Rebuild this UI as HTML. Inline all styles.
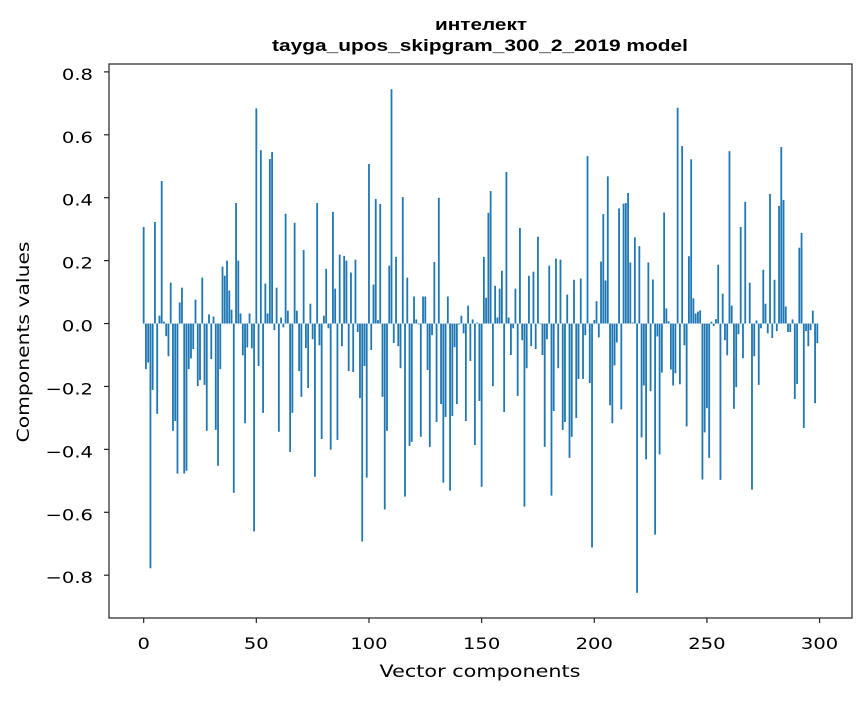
<!DOCTYPE html>
<html><head><meta charset="utf-8"><style>
body{margin:0;background:#fff;}
svg text{font-family:"DejaVu Sans","Liberation Sans",sans-serif;fill:#000;}
svg text.ttl{font-family:"Liberation Sans","DejaVu Sans",sans-serif;}
</style></head><body>
<svg id="chart" width="867" height="696" viewBox="0 0 867 696" xmlns="http://www.w3.org/2000/svg">
<rect width="867" height="696" fill="#fff"/>
<text class="ttl" x="481" y="30" text-anchor="middle" font-size="17" font-weight="bold" textLength="92" lengthAdjust="spacingAndGlyphs">интелект</text>
<text class="ttl" x="480" y="51" text-anchor="middle" font-size="17" font-weight="bold" textLength="416" lengthAdjust="spacingAndGlyphs">tayga_upos_skipgram_300_2_2019 model</text>
<g id="bars"></g>
<g id="axes"></g>
<text x="480" y="677" text-anchor="middle" font-size="17" textLength="201" lengthAdjust="spacingAndGlyphs">Vector components</text>
<text transform="translate(29,342) rotate(-90)" text-anchor="middle" font-size="17" textLength="201" lengthAdjust="spacingAndGlyphs">Components values</text>
</svg>
<script>
const values = [
0.307,-0.145,-0.124,-0.778,-0.211,0.323,-0.287,0.025,0.453,0.006,
-0.04,-0.104,0.13,-0.341,-0.31,-0.477,0.067,0.114,-0.477,-0.468,
-0.145,-0.111,-0.081,0.076,-0.199,-0.18,0.146,-0.195,-0.341,0.029,
-0.113,0.022,-0.338,-0.452,-0.145,0.181,0.152,0.2,0.105,0.044,
-0.538,0.383,0.2,0.032,-0.101,-0.317,-0.076,0.032,-0.079,-0.661,
0.684,-0.135,0.551,-0.284,0.127,0.032,0.523,0.545,-0.021,0.114,
-0.344,0.019,-0.012,0.349,0.041,-0.408,-0.284,0.32,0.041,-0.151,
-0.233,0.234,-0.078,-0.205,0.063,-0.05,-0.487,0.383,-0.069,-0.367,
0.025,0.174,-0.015,-0.401,0.355,0.111,-0.37,0.219,-0.072,0.215,
0.2,-0.151,0.162,-0.154,0.203,-0.027,-0.237,-0.693,-0.135,-0.49,
0.507,-0.084,0.124,0.396,0.011,0.38,-0.233,-0.591,-0.341,0.184,
0.745,-0.062,0.212,-0.072,-0.142,0.402,-0.55,0.146,-0.389,-0.376,
0.086,0.013,-0.003,-0.36,0.086,0.086,-0.148,-0.392,-0.037,0.196,
-0.313,0.4,-0.256,-0.506,-0.297,0.086,-0.531,-0.294,-0.075,-0.256,
-0.003,0.025,-0.031,-0.31,0.057,-0.119,0.013,-0.386,0.003,-0.246,
-0.519,0.212,0.082,0.352,0.421,-0.199,0.12,0.019,0.111,0.168,
-0.281,0.482,0.019,-0.1,-0.015,0.111,-0.23,0.304,-0.053,-0.582,
-0.142,0.152,-0.072,0.165,-0.081,0.276,-0.002,-0.1,-0.392,-0.05,
0.184,-0.547,-0.278,0.206,-0.142,0.203,-0.338,-0.313,0.092,-0.427,
-0.36,0.139,-0.3,-0.176,0.143,-0.176,-0.037,0.532,-0.189,-0.712,
0.011,0.071,-0.044,0.197,0.348,0.137,0.468,-0.26,-0.317,-0.133,
-0.06,0.366,-0.273,0.381,0.383,0.415,0.194,0.003,0.274,-0.856,
0.246,-0.362,-0.197,-0.432,0.194,-0.215,0.14,-0.671,-0.041,-0.416,
-0.156,0.353,0.048,0.007,-0.146,-0.197,-0.158,0.686,-0.193,0.564,
-0.069,-0.327,0.214,0.522,0.08,0.032,0.038,0.042,-0.496,-0.346,
-0.269,-0.427,0.006,-0.008,0.014,0.187,-0.497,0.095,-0.053,-0.101,
0.548,0.057,-0.271,-0.202,-0.034,0.307,-0.11,0.387,0,0.13,
-0.528,-0.104,0.01,-0.195,-0.015,0.171,0.063,-0.031,0.412,-0.046,
0.139,-0.024,0.374,0.561,0.393,0.054,-0.027,-0.027,0.013,-0.24,
-0.192,0.241,0.288,-0.332,-0.024,-0.072,-0.021,0.041,-0.253,-0.062
];
const xTicks = [0,50,100,150,200,250,300];
const yTicks = [-0.8,-0.6,-0.4,-0.2,0.0,0.2,0.4,0.6,0.8];

const L=109,R=852,T=64,B=618;
const n=values.length;
const xmin=-0.4-0.05*(n-0.2), xmax=n-0.6+0.05*(n-0.2);
const vmin=Math.min(0,...values), vmax=Math.max(0,...values);
const pad=(vmax-vmin)*0.05;
const ymin=vmin-pad, ymax=vmax+pad;
const xs=v=>L+(v-xmin)/(xmax-xmin)*(R-L);
const ys=v=>B-(v-ymin)/(ymax-ymin)*(B-T);
const NS="http://www.w3.org/2000/svg";
const bars=document.getElementById('bars');
values.forEach((v,i)=>{
  const r=document.createElementNS(NS,'rect');
  const x0=xs(i-0.4),x1=xs(i+0.4);
  const y0=ys(Math.max(v,0)),y1=ys(Math.min(v,0));
  r.setAttribute('x',x0);r.setAttribute('width',x1-x0);
  r.setAttribute('y',y0);r.setAttribute('height',Math.max(y1-y0,0));
  r.setAttribute('fill','#1f77b4');
  
  
  bars.appendChild(r);
});
const ax=document.getElementById('axes');
function el(tag,attrs,text){const e=document.createElementNS(NS,tag);for(const k in attrs)e.setAttribute(k,attrs[k]);if(text!==undefined)e.textContent=text;ax.appendChild(e);return e;}
function stretch(t){const len=t.getComputedTextLength();if(len>0){t.setAttribute('textLength',len*1.22);t.setAttribute('lengthAdjust','spacingAndGlyphs');}}
const frame=el('rect',{x:L,y:T,width:R-L,height:B-T,fill:'none',stroke:'#222','stroke-width':1.2});


xTicks.forEach(t=>{
  const x=xs(t);
  const l=el('line',{x1:x,x2:x,y1:B,y2:B+5,stroke:'#222','stroke-width':1.2});
  
  
  const tx=el('text',{x:x,y:B+31,'text-anchor':'middle','font-size':16},String(t));
  
  
  stretch(tx);
});
yTicks.forEach(t=>{
  const y=ys(t);
  const l=el('line',{x1:L-5,x2:L,y1:y,y2:y,stroke:'#222','stroke-width':1.2});
  
  
  const s=(t<0?'\u2212':'')+Math.abs(t).toFixed(1);
  const tx=el('text',{x:L-16,y:y+8,'text-anchor':'end','font-size':16},s);
  
  
  stretch(tx);
});
</script>
</body></html>
